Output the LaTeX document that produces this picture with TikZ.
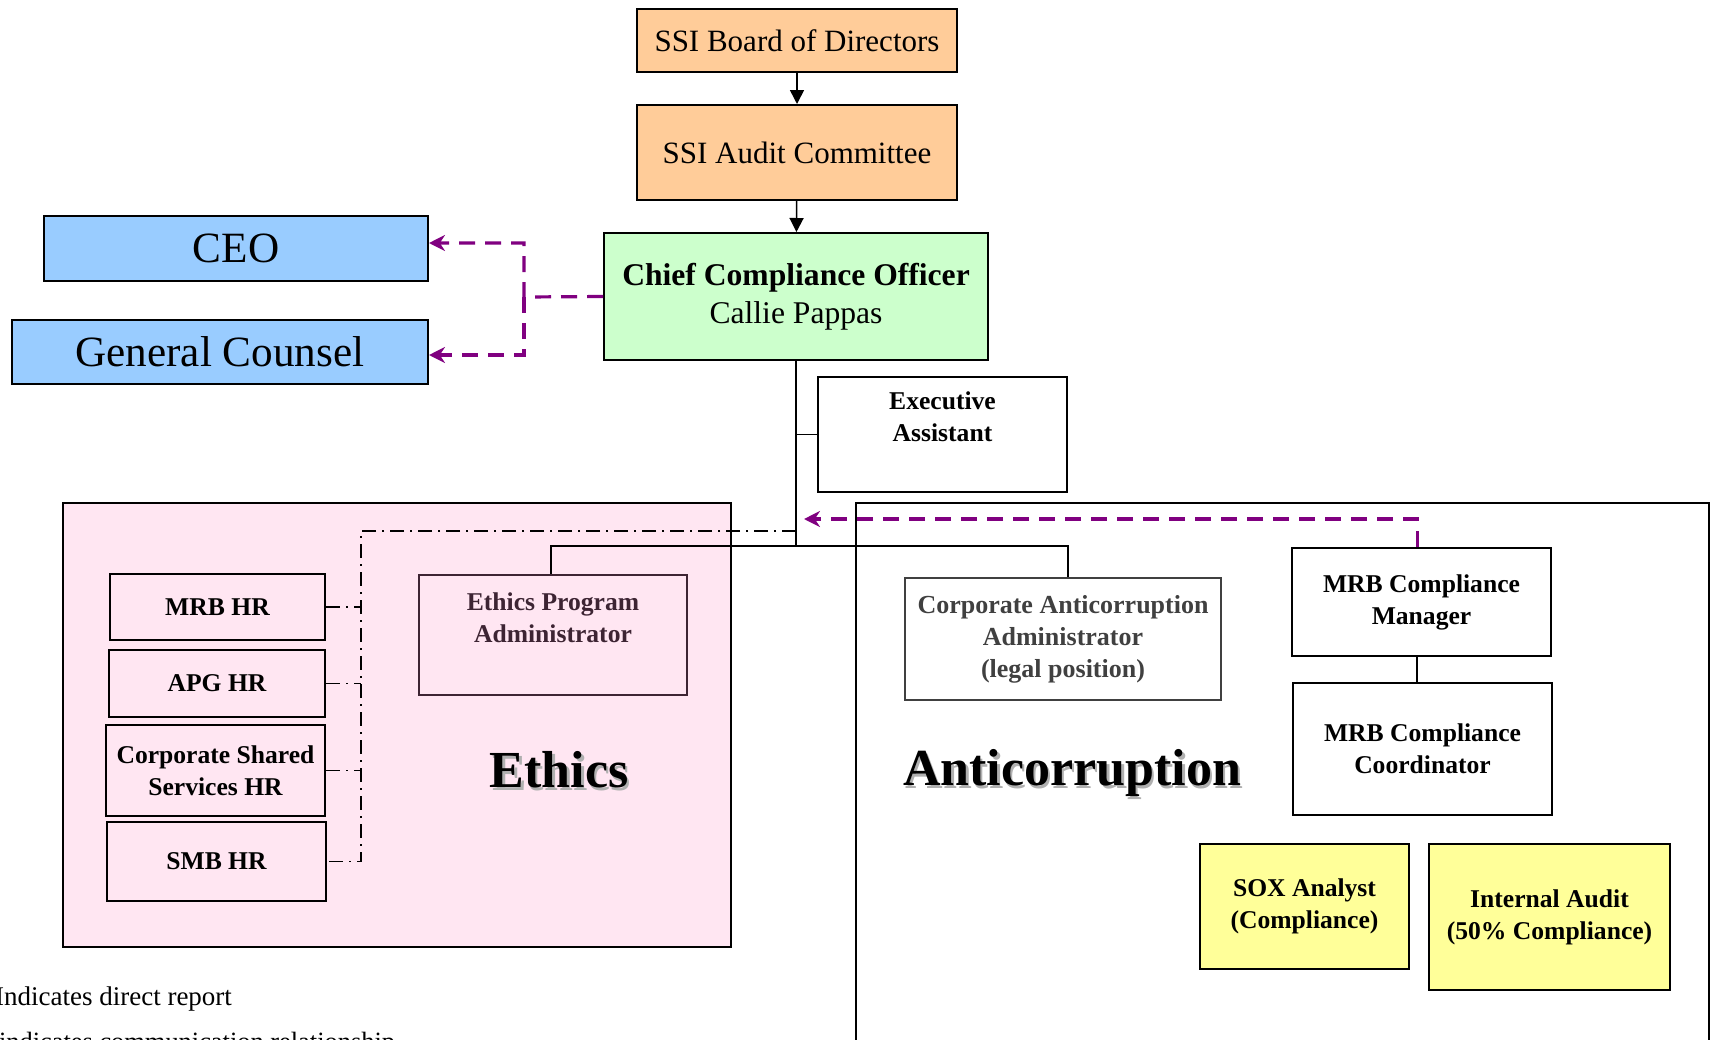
\documentclass[tikz,border=0pt]{standalone}
\usepackage{fontspec}
\setmainfont{Liberation Serif}
\usetikzlibrary{arrows.meta}
\definecolor{peach}{HTML}{FFCC99}
\definecolor{sky}{HTML}{99CCFF}
\definecolor{mint}{HTML}{CCFFCC}
\definecolor{lemon}{HTML}{FFFF99}
\definecolor{blush}{HTML}{FFE6F2}
\definecolor{plum}{HTML}{800080}
\definecolor{aubergine}{HTML}{3D2433}
\definecolor{slate}{HTML}{404040}
\definecolor{shade}{HTML}{B0B0B0}

\begin{document}
\begin{tikzpicture}[x=0.5pt,y=-0.5pt]
  \tikzstyle{box}=[draw,line width=1pt,inner sep=0pt,align=center]
  \tikzstyle{board}=[box,fill=peach,font=\fontsize{15.5}{18}\selectfont]
  \tikzstyle{officer}=[box,fill=sky,font=\fontsize{21.6}{26}\selectfont]
  \tikzstyle{staff}=[box,font=\bfseries\fontsize{12.8}{16}\selectfont]
  \tikzstyle{report}=[-{Triangle[length=7pt,width=7pt]},line width=0.8pt]
  \tikzstyle{comm}=[-{Stealth[length=8pt,width=8pt]},draw=plum,line width=1.6pt,dash pattern=on 8pt off 5pt]
  \tikzstyle{dashdot link}=[line width=0.7pt,dash pattern=on 7pt off 3pt on 1pt off 3pt]
  \tikzstyle{area}=[font=\bfseries\fontsize{26}{30}\selectfont]
  \useasboundingbox (0,0) rectangle (1712,1039);

  % the two departments
  \draw[line width=1pt,fill=blush] (63,503) rectangle (731,947);
  \draw[line width=1pt] (856,1060) -- (856,503) -- (1709,503) -- (1709,1060);

  \node[board,minimum width=160pt,minimum height=31.5pt] (board) at (797,40.5) {SSI Board of Directors};
  \node[board,minimum width=160pt,minimum height=47.5pt] (audit) at (797,152.5) {SSI Audit Committee};
  \node[officer,minimum width=192pt,minimum height=32.5pt] (ceo) at (236,248.5) {CEO};
  \node[officer,minimum width=208pt,minimum height=32pt] (gc) at (220,352) {General Counsel};
  \node[box,fill=mint,minimum width=192pt,minimum height=63.5pt,font=\fontsize{15.8}{19}\selectfont] (cco) at (796,296.5) {\textbf{Chief Compliance Officer}\\Callie Pappas};
  \node[staff,minimum width=124.5pt,minimum height=57.5pt] (assistant) at (942.5,434.5) {Executive\\Assistant\\[-3.3pt]\strut};

  \node[staff,minimum width=107.5pt,minimum height=33pt] (mrbhr) at (217.5,607) {MRB HR};
  \node[staff,minimum width=108pt,minimum height=33.5pt] (apghr) at (217,683.5) {APG HR};
  \node[staff,minimum width=109.5pt,minimum height=45.5pt] (csshr) at (215.5,770.5) {Corporate Shared\\Services HR};
  \node[staff,minimum width=109.5pt,minimum height=39.5pt] (smbhr) at (216.5,861.5) {SMB HR};
  \node[staff,draw=aubergine,text=aubergine,minimum width=134pt,minimum height=60pt] (epa) at (553,635) {Ethics Program\\Administrator\\[-3.3pt]\strut};

  \node[staff,draw=slate,text=slate,minimum width=158pt,minimum height=61pt,font=\bfseries\fontsize{13}{16}\selectfont] (caa) at (1063,639) {Corporate Anticorruption\\Administrator\\(legal position)};
  \node[staff,minimum width=129.5pt,minimum height=54pt] (mcm) at (1421.5,602) {MRB Compliance\\Manager};
  \node[staff,minimum width=129.5pt,minimum height=66pt] (mcc) at (1422.5,749) {MRB Compliance\\Coordinator};
  \node[staff,fill=lemon,minimum width=104.5pt,minimum height=62.5pt] (sox) at (1304.5,906.5) {SOX Analyst\\(Compliance)};
  \node[staff,fill=lemon,minimum width=120.5pt,minimum height=73pt] (ia) at (1549.5,917) {Internal Audit\\(50\% Compliance)};

  \node[area,text=shade] (ethicsshadow) at (561.5,772.5) {Ethics};
  \node[area] (ethics) at (559,770) {Ethics};
  \node[area,text=shade] (acshadow) at (1074.5,775.5) {Anticorruption};
  \node[area] (ac) at (1072,773) {Anticorruption};

  \node[anchor=base west,font=\fontsize{13.5}{16}\selectfont] (legenda) at (-12,1005) {Indicates direct report};
  \node[anchor=base west,font=\fontsize{13.2}{16}\selectfont] (legendb) at (-8,1050) {indicates communication relationship};

  \coordinate (bus) at (797,546);
  \coordinate (hrtop) at (361,531);
  \coordinate (split) at (524,297);
  \coordinate (commtip) at (804,519);
  \coordinate (ceoin) at ([yshift=2.75pt]ceo.east);
  \coordinate (gcin) at ([yshift=-1.5pt]gc.east);
  \coordinate (epatop) at ([xshift=-1pt]epa.north);
  \coordinate (caatop) at ([xshift=2.5pt]caa.north);
  \coordinate (mcmtop) at ([xshift=-2.2pt]mcm.north);
  \coordinate (mcmfoot) at ([xshift=-2.2pt]mcm.south);

  \draw[report] (board) -- (audit);
  \draw[report] (audit) -- (cco);
  \draw[line width=0.8pt] (cco.south) -- (cco.south |- bus);
  \draw[line width=0.8pt] (assistant.west) -- (assistant.west -| cco.south);
  \draw[line width=0.8pt] (epatop) -- (epatop |- bus) -- (caatop |- bus) -- (caatop);
  \draw[line width=0.8pt] (mcmfoot) -- (mcmfoot |- mcc.north);

  \draw[dashdot link] (cco.south |- hrtop) -- (hrtop) -- (hrtop |- smbhr.east) -- (smbhr.east);
  \draw[dashdot link] (mrbhr.east) -- (mrbhr.east -| hrtop);
  \draw[dashdot link] (apghr.east) -- (apghr.east -| hrtop);
  \draw[dashdot link] (csshr.east) -- (csshr.east -| hrtop);

  \draw[comm] (cco.west) -- (split) -- (split |- ceoin) -- (ceoin);
  \draw[comm] (split) -- (split |- gcin) -- (gcin);
  \draw[comm] (mcmtop) -- (mcmtop |- commtip) -- (commtip);
\end{tikzpicture}
\end{document}
